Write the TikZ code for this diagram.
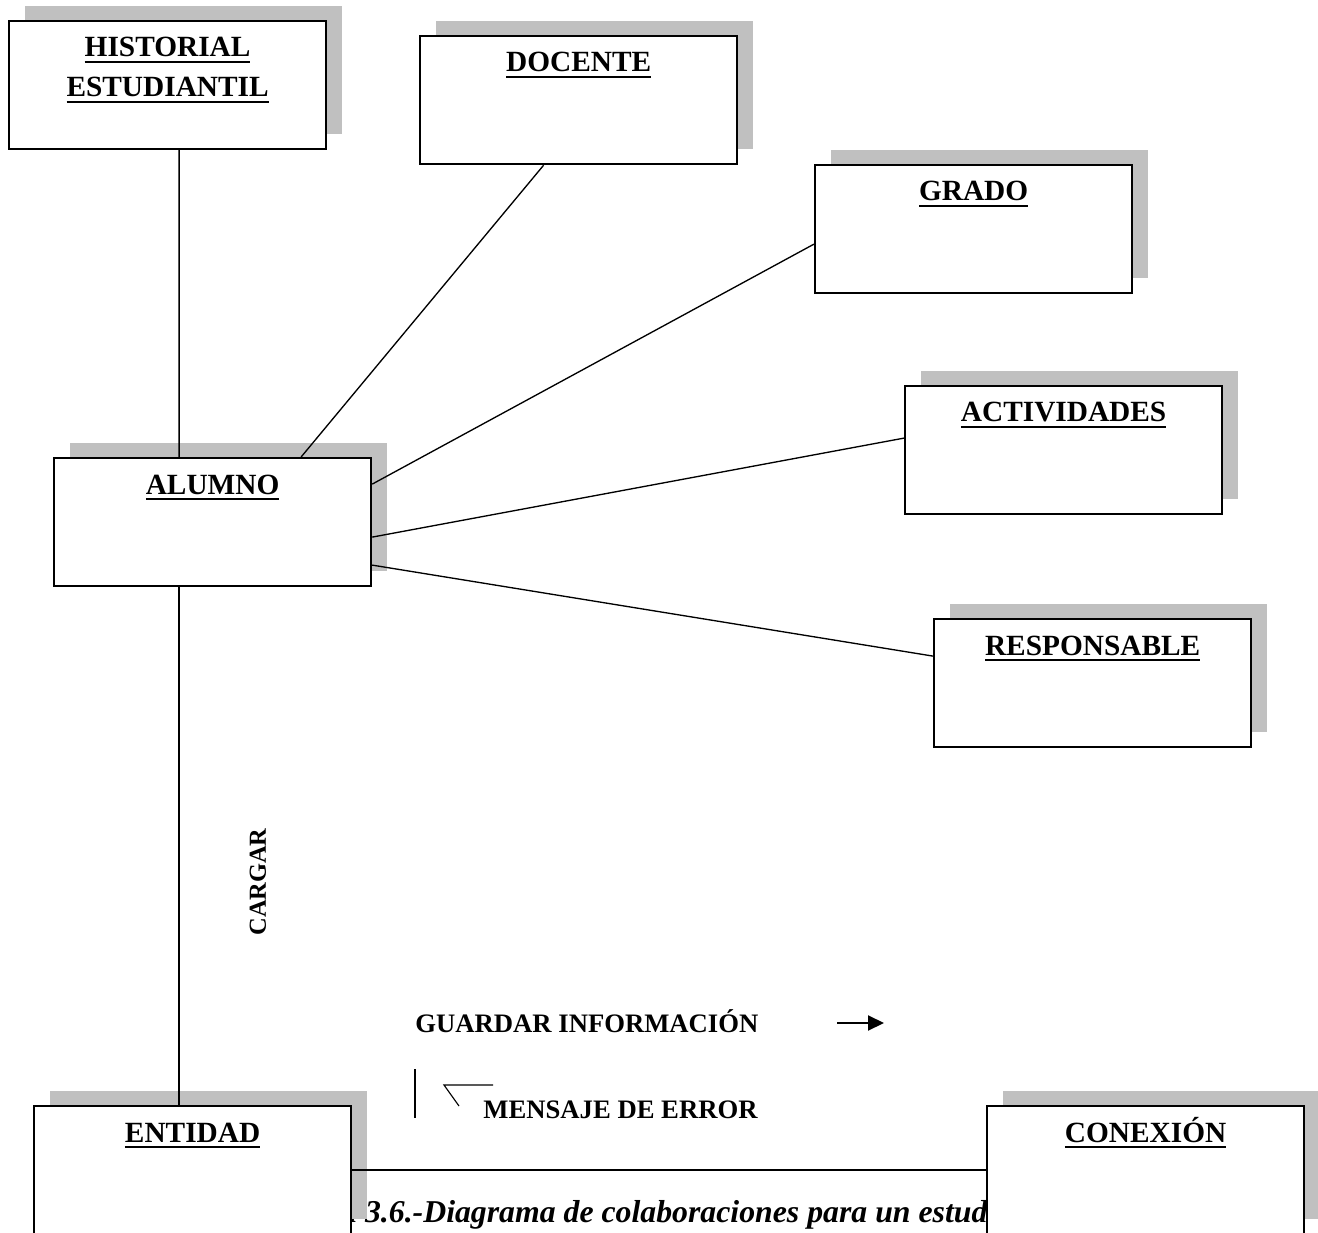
\documentclass[tikz,border=0pt]{standalone}
\usepackage{fontspec}
\setmainfont{Liberation Serif}
\usetikzlibrary{calc,arrows.meta}
\definecolor{sombra}{RGB}{192,192,192}
\newcommand{\subrayar}[1]{\setbox0=\hbox{#1}\rlap{\rule[-2.7pt]{\wd0}{1pt}}\box0}
\tikzset{
  caja/.style={rectangle, draw, line width=1pt, fill=white, anchor=north west, inner sep=0pt,
               minimum width=142.65pt, minimum height=57.6pt,
               preaction={fill=sombra, transform canvas={xshift=7.2pt, yshift=6.75pt}}},
  titulo/.style={anchor=base, inner sep=0pt, align=center, font=\fontsize{13.2}{18}\selectfont\bfseries},
  etiqueta/.style={anchor=base west, inner sep=0pt, font=\fontsize{12}{14}\selectfont\bfseries},
  linea/.style={line width=0.6pt},
}

\begin{document}
\begin{tikzpicture}[x=0.45pt, y=-0.45pt]
\useasboundingbox (0,0) rectangle (1318,1233);

%Leyenda (queda tapada en parte por las cajas)
\node[anchor=base, inner sep=0pt, font=\fontsize{14.3}{16}\selectfont\bfseries\itshape] (leyenda) at (659,1222)
  {Figura 3.6.-Diagrama de colaboraciones para un estudiante};

%Cajas
\node[caja] (historial) at (8,20) {};
\node[caja] (docente) at (419,35) {};
\node[caja] (grado) at (814,164) {};
\node[caja] (actividades) at (904,385) {};
\node[caja] (alumno) at (53,457) {};
\node[caja] (responsable) at (933,618) {};
\node[caja] (entidad) at (33,1105) {};
\node[caja] (conexion) at (986,1105) {};

%Titulos (base = ultima linea)
\node[titulo] (historial-t) at ($(historial.north)+(0,77)$) {\subrayar{HISTORIAL}\\\subrayar{ESTUDIANTIL}};
\node[titulo] (docente-t) at ($(docente.north)+(0,37)$) {\subrayar{DOCENTE}};
\node[titulo] (grado-t) at ($(grado.north)+(0,37)$) {\subrayar{GRADO}};
\node[titulo] (actividades-t) at ($(actividades.north)+(0,37)$) {\subrayar{ACTIVIDADES}};
\node[titulo] (alumno-t) at ($(alumno.north)+(0,37)$) {\subrayar{ALUMNO}};
\node[titulo] (responsable-t) at ($(responsable.north)+(0,37)$) {\subrayar{RESPONSABLE}};
\node[titulo] (entidad-t) at ($(entidad.north)+(0,37)$) {\subrayar{ENTIDAD}};
\node[titulo] (conexion-t) at ($(conexion.north)+(0,37)$) {\subrayar{CONEXIÓN}};

%Lineas
\draw[linea] ($(historial.south)+(11.5,0)$) -- ($(alumno.north)+(-33.5,0)$);
\draw[linea] ($(docente.south)+(-35,0)$) -- ($(alumno.north)+(88.5,0)$);
\draw[linea] ($(grado.west)+(0,15)$) -- ($(alumno.east)+(0,-38)$);
\draw[linea] ($(actividades.west)+(0,-12)$) -- ($(alumno.east)+(0,15)$);
\draw[linea] ($(responsable.west)+(0,-27)$) -- ($(alumno.east)+(0,43)$);
\draw[linea] ($(alumno.south)+(-33.5,0)$) -- ($(entidad.north)+(-13.5,0)$);
\draw[linea] (entidad.east) -- (conexion.west);

%Mensajes
\node[font=\fontsize{11}{13}\selectfont\bfseries, rotate=90, inner sep=0pt] (cargar) at (258,882) {CARGAR};
\node[etiqueta] (guardar) at (415,1032) {GUARDAR INFORMACIÓN};
\node[etiqueta] (mensaje) at (483,1118) {MENSAJE DE ERROR};

\coordinate (g1) at (837,1023);
\coordinate (g2) at (884,1023);
\draw[line width=0.9pt, -{Triangle[length=7.2pt,width=6.75pt]}] (g1) -- (g2);

\coordinate (b1) at (415,1069);
\coordinate (b2) at (415,1118);
\draw[line width=0.5pt] (b1) -- (b2);
\coordinate (m1) at (493,1085);
\coordinate (m2) at (444,1085);
\coordinate (m3) at (459,1106);
\draw[line width=0.5pt] (m1) -- (m2) -- (m3);
\end{tikzpicture}
\end{document}
